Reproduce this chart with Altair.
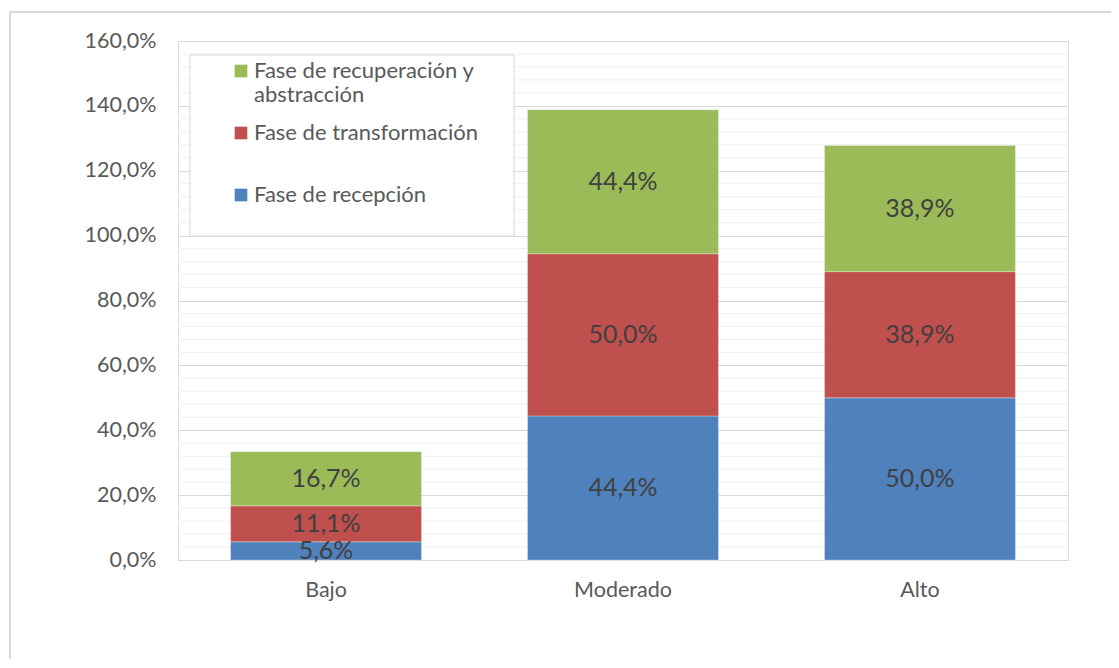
import altair as alt
import pandas as pd

categories = ["Bajo", "Moderado", "Alto"]
series = ["Fase de recepción", "Fase de transformación", "Fase de recuperación y abstracción"]
recepcion = [0.056, 0.444, 0.500]
transformacion = [0.111, 0.500, 0.389]
recuperacion = [0.167, 0.444, 0.389]
colors = ["#4F81BD", "#C0504D", "#9BBB59"]
y_ticks = [0.0, 0.2, 0.4, 0.6, 0.8, 1.0, 1.2, 1.4, 1.6]
minor_ticks = [0.04, 0.08, 0.12, 0.16, 0.24, 0.28, 0.32, 0.36, 0.44, 0.48, 0.52, 0.56,
               0.64, 0.68, 0.72, 0.76, 0.84, 0.88, 0.92, 0.96, 1.04, 1.08, 1.12, 1.16,
               1.24, 1.28, 1.32, 1.36, 1.44, 1.48, 1.52, 1.56]

rows = []
for i, c in enumerate(categories):
    for j, (s, vals) in enumerate(zip(series, [recepcion, transformacion, recuperacion])):
        rows.append({"cat": c, "serie": s, "orden": j, "valor": vals[i]})
df = pd.DataFrame(rows)

FONT = "Lato"
GRAY = "#595959"
W, H = 890, 519

yscale = alt.Scale(domain=[0, 1.6], nice=False)
xscale = alt.Scale(paddingInner=0.357, paddingOuter=0.177)

base = alt.Chart(df).transform_stack(
    stack="valor", groupby=["cat"], sort=[alt.SortField("orden")], as_=["y0", "y1"]
).transform_calculate(
    mid="(datum.y0 + datum.y1) / 2",
    lbl="replace(format(datum.valor, '.1%'), '.', ',')",
)

minor = alt.Chart(pd.DataFrame({"v": minor_ticks})).mark_rule(
    color="#F0F0F0", strokeWidth=1
).encode(y=alt.Y("v:Q", scale=yscale))

legend_box = alt.Chart(pd.DataFrame({"a": [0]})).mark_rect(
    fill="white", stroke="#D9D9D9", strokeWidth=1
).encode(x=alt.value(12), x2=alt.value(336), y=alt.value(14), y2=alt.value(195))

label_expr = (
    "datum.label == 'Fase de recuperación y abstracción' ? ['Fase de recuperación y', 'abstracción'] : "
    "datum.label == 'Fase de transformación' ? ['Fase de transformación', ''] : datum.label"
)

bars = base.mark_bar(stroke="white", strokeWidth=0.5, strokeOpacity=0.6).encode(
    x=alt.X(
        "cat:N", sort=categories, scale=xscale,
        axis=alt.Axis(title=None, labelAngle=0, ticks=False, domainColor="#D9D9D9",
                      labelPadding=19, labelFontSize=21.5, labelColor=GRAY, labelFont=FONT,
                      grid=False),
    ),
    y=alt.Y(
        "y0:Q", scale=yscale,
        axis=alt.Axis(values=y_ticks, title=None, domain=False, ticks=False,
                      labelExpr="replace(format(datum.value, '.1%'), '.', ',')",
                      gridColor="#D9D9D9", labelPadding=22, labelFontSize=21.5,
                      labelColor=GRAY, labelFont=FONT),
    ),
    y2="y1:Q",
    color=alt.Color(
        "serie:N",
        scale=alt.Scale(domain=series, range=colors),
        legend=alt.Legend(
            values=series[::-1], orient="none", legendX=52, legendY=19, title=None,
            symbolType="square", symbolSize=160, symbolStrokeWidth=0,
            labelFontSize=22, labelColor=GRAY, labelFont=FONT, labelLimit=400,
            labelOffset=2, rowPadding=16,
            labelExpr=label_expr,
        ),
    ),
    order=alt.Order("orden:Q"),
)

labels = base.mark_text(fontSize=25, font=FONT, color="#404040").encode(
    x=alt.X("cat:N", sort=categories, scale=xscale),
    y=alt.Y("mid:Q", scale=yscale),
    text="lbl:N",
)

frame_top = alt.Chart(pd.DataFrame({"a": [0]})).mark_rule(color="#D9D9D9", strokeWidth=2).encode(
    x=alt.value(-168), x2=alt.value(W + 60), y=alt.value(-29)
)
frame_left = alt.Chart(pd.DataFrame({"a": [0]})).mark_rule(color="#D9D9D9", strokeWidth=2).encode(
    x=alt.value(-168), y=alt.value(-29), y2=alt.value(H + 120)
)

chart = alt.layer(minor, legend_box, bars, labels, frame_top, frame_left).properties(
    width=W, height=H,
    autosize=alt.AutoSizeParams(type="none"),
    padding={"left": 170, "top": 33, "right": 43, "bottom": 99},
).configure_view(stroke=None).configure(background="white")

chart.save("out.html", embed_options={"renderer": "svg", "actions": False})
